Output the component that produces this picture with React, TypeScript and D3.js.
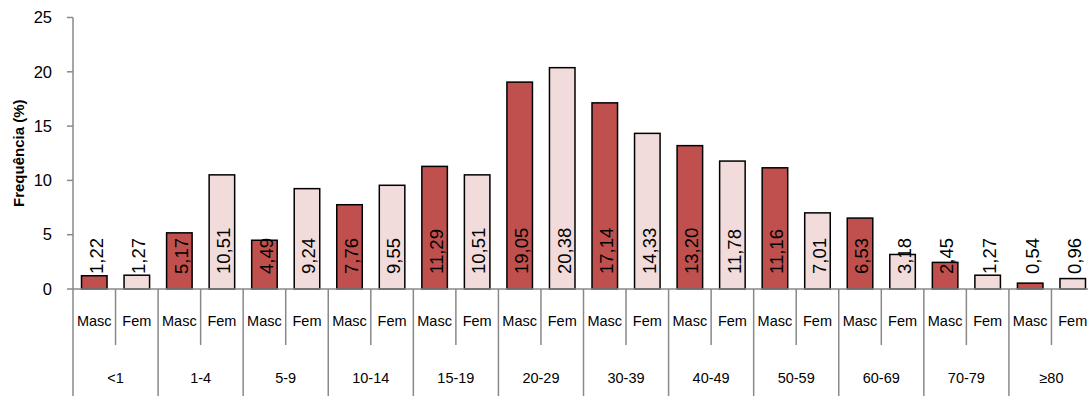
import React from "react";
import * as d3 from "d3";

const groups = ["<1", "1-4", "5-9", "10-14", "15-19", "20-29", "30-39", "40-49", "50-59", "60-69", "70-79", "≥80"];
const sexes = ["Masc", "Fem"];
const mascValues = [1.22, 5.17, 4.49, 7.76, 11.29, 19.05, 17.14, 13.2, 11.16, 6.53, 2.45, 0.54];
const femValues = [1.27, 10.51, 9.24, 9.55, 10.51, 20.38, 14.33, 11.78, 7.01, 3.18, 1.27, 0.96];
const yTicks = [0, 5, 10, 15, 20, 25];
const yTitle = "Frequência (%)";

const W = 1088;
const H = 396;
const left = 73;
const right = 1094;
const top = 17.5;
const base = 289;

const colors: Record<string, string> = { Masc: "#C0504D", Fem: "#F2DCDB" };
const axisColor = "#898989";
const font = "'Liberation Sans', Arial, sans-serif";

export default function App() {
  const items = groups.flatMap((g, i) => [
    { key: `${g}-M`, group: g, sex: "Masc", value: mascValues[i] },
    { key: `${g}-F`, group: g, sex: "Fem", value: femValues[i] },
  ]);
  const x = d3
    .scaleBand<string>()
    .domain(items.map((d) => d.key))
    .range([left, right])
    .paddingInner(0.4)
    .paddingOuter(0.2);
  const xg = d3.scaleBand<string>().domain(groups).range([left, right]);
  const y = d3.scaleLinear().domain([0, 25]).range([base, top]);
  const step = x.step();
  const fmt = (v: number) => v.toFixed(2).replace(".", ",");

  return (
    <svg
      width={W}
      height={H}
      style={{ position: "absolute", left: 0, top: 0, background: "#fff" }}
      fontFamily={font}
    >
      {/* bars */}
      {items.map((d) => (
        <rect
          key={d.key}
          x={x(d.key)!}
          y={y(d.value)}
          width={x.bandwidth()}
          height={y(0) - y(d.value)}
          fill={colors[d.sex]}
          stroke="#000"
          strokeWidth={1.5}
        />
      ))}
      {/* value labels */}
      {items.map((d) => {
        const cx = x(d.key)! + x.bandwidth() / 2;
        return (
          <text
            key={d.key + "-l"}
            transform={`translate(${cx},${y(0) - 15}) rotate(-90)`}
            dy="0.45em"
            fontSize={18.5}
            fill="#000"
            textAnchor="start"
          >
            {fmt(d.value)}
          </text>
        );
      })}
      {/* y axis */}
      <line x1={left} x2={left} y1={top} y2={H} stroke={axisColor} strokeWidth={1.5} />
      {yTicks.map((t) => (
        <g key={t}>
          <line x1={left - 6} x2={left} y1={y(t)} y2={y(t)} stroke={axisColor} strokeWidth={1.5} />
          <text x={52} y={y(t)} dy="0.35em" textAnchor="end" fontSize={16.5} fill="#000">
            {t}
          </text>
        </g>
      ))}
      <text
        transform={`translate(19,${(top + base) / 2}) rotate(-90)`}
        dy="0.35em"
        textAnchor="middle"
        fontSize={15}
        fontWeight="bold"
        fill="#000"
      >
        {yTitle}
      </text>
      {/* x axis */}
      <line x1={left} x2={right} y1={base} y2={base} stroke={axisColor} strokeWidth={1.5} />
      {items.map((d, i) => {
        const bx = left + step * (i + 1);
        const isGroupEnd = i % 2 === 1;
        return (
          <line
            key={d.key + "-t"}
            x1={bx}
            x2={bx}
            y1={base}
            y2={isGroupEnd ? H : 345}
            stroke={axisColor}
            strokeWidth={1.5}
          />
        );
      })}
      {items.map((d) => (
        <text
          key={d.key + "-c"}
          x={x(d.key)! + x.bandwidth() / 2}
          y={321}
          dy="0.35em"
          textAnchor="middle"
          fontSize={14.5}
          fill="#000"
        >
          {d.sex}
        </text>
      ))}
      {groups.map((g) => (
        <text
          key={g + "-g"}
          x={xg(g)! + xg.bandwidth() / 2}
          y={378}
          dy="0.35em"
          textAnchor="middle"
          fontSize={14.5}
          fill="#000"
        >
          {g}
        </text>
      ))}
    </svg>
  );
}
